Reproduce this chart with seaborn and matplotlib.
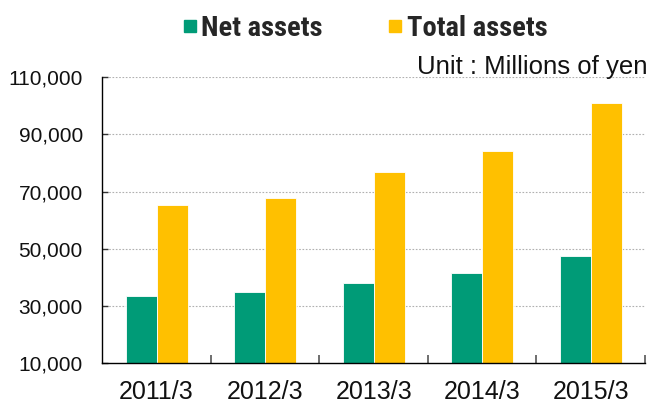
import matplotlib
matplotlib.use("Agg")
import matplotlib.pyplot as plt
import seaborn as sns
import pandas as pd
from matplotlib.lines import Line2D
from matplotlib.ticker import FixedLocator, FuncFormatter

years = ["2011/3", "2012/3", "2013/3", "2014/3", "2015/3"]
net_assets = [33500, 34800, 38200, 41600, 47600]
total_assets = [65200, 67700, 76900, 84300, 100900]
series_names = ["Net assets", "Total assets"]
colors = ["#009B77", "#FFC000"]
yticks = [10000, 30000, 50000, 70000, 90000, 110000]

df = pd.DataFrame({
    "year": years * 2,
    "value": net_assets + total_assets,
    "series": [series_names[0]] * len(years) + [series_names[1]] * len(years),
})

sns.set_theme(style="white")
plt.rcParams["font.family"] = ["Liberation Sans", "DejaVu Sans"]

fig = plt.figure(figsize=(6.53, 4.04), dpi=100)
ax = fig.add_axes([0.1567, 0.1007, 0.8310, 0.7087])

sns.barplot(data=df, x="year", y="value", hue="series", palette=colors,
            width=0.57, edgecolor="white", linewidth=0.6, legend=False, ax=ax,
            saturation=1)

ax.set_ylim(10000, 110000)
ax.set_xlim(-0.5, len(years) - 0.5)
ax.yaxis.set_major_locator(FixedLocator(yticks))
ax.yaxis.set_major_formatter(FuncFormatter(lambda v, p: f"{int(v):,}"))
for y in yticks[1:]:
    ax.axhline(y, color="#b0b0b0", linestyle=(0, (1.5, 1.5)), linewidth=0.8, zorder=0)

ax.set_xlabel("")
ax.set_ylabel("")
for s in ["top", "right"]:
    ax.spines[s].set_visible(False)
for s in ["left", "bottom"]:
    ax.spines[s].set_color("black")
    ax.spines[s].set_linewidth(1.0)

ax.tick_params(axis="y", which="major", direction="in", length=4, width=1,
               color="#333333", labelsize=15, pad=14, left=True)
ax.tick_params(axis="x", which="major", length=0, labelsize=18, pad=12)
ax.set_xticks([i + 0.5 for i in range(len(years))], minor=True)
ax.tick_params(axis="x", which="minor", direction="in", length=6, width=1.2,
               color="#555555", bottom=True)
for lab in ax.get_xticklabels() + ax.get_yticklabels():
    lab.set_color("#111111")

handles = [Line2D([0], [0], marker="s", linestyle="", markersize=8,
                  markerfacecolor=c, markeredgecolor=c) for c in colors]
fig.legend(handles, series_names, loc="center left", bbox_to_anchor=(0.2818, 0.93),
           ncol=2, frameon=False, handletextpad=0.2, columnspacing=2.35,
           handlelength=0.4, borderpad=0, borderaxespad=0,
           prop={"family": ["Roboto Condensed", "DejaVu Sans"], "weight": "bold",
                 "size": 20.5})

fig.text(0.9923, 1 - 74.3 / 404, "Unit : Millions of yen", ha="right", va="baseline",
         fontsize=18.5, color="#111111")

fig.savefig("out.png", dpi=100)
